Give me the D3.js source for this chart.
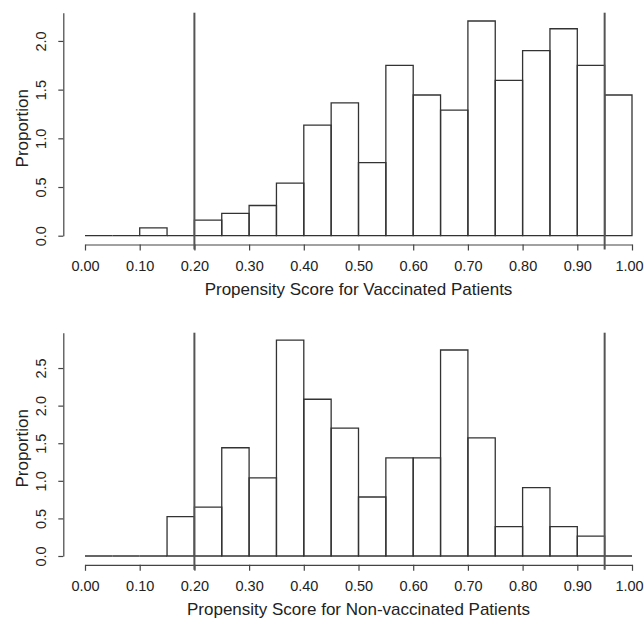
<!DOCTYPE html>
<html>
<head>
<meta charset="utf-8">
<script src="https://cdn.jsdelivr.net/npm/d3@7"></script>
<style>
  body { margin: 0; background: #fff; }
  svg { font-family: "Liberation Sans", Arial, sans-serif; }
</style>
</head>
<body>
<div id="chart"></div>
<script>
// bin starts (width 0.05)
var binStarts = [0.00, 0.05, 0.10, 0.15, 0.20, 0.25, 0.30, 0.35, 0.40, 0.45,
                 0.50, 0.55, 0.60, 0.65, 0.70, 0.75, 0.80, 0.85, 0.90, 0.95];
var binWidth = 0.05;

var vaccinated = [0, 0, 0.08, 0, 0.16, 0.23, 0.31, 0.54, 1.135, 1.365,
                  0.75, 1.75, 1.445, 1.29, 2.205, 1.595, 1.90, 2.125, 1.75, 1.445];
var nonVaccinated = [0, 0, 0, 0.525, 0.65, 1.44, 1.04, 2.87, 2.085, 1.70,
                     0.785, 1.305, 1.305, 2.74, 1.57, 0.39, 0.91, 0.39, 0.265, 0];

var xTicks = [0, 0.1, 0.2, 0.3, 0.4, 0.5, 0.6, 0.7, 0.8, 0.9, 1.0];
var yTicksTop = [0, 0.5, 1.0, 1.5, 2.0];
var yTicksBottom = [0, 0.5, 1.0, 1.5, 2.0, 2.5];
var cutoffs = [0.20, 0.95];

var width = 644, height = 619;

var svg = d3.select("#chart").append("svg")
    .attr("width", width)
    .attr("height", height);

var x = d3.scaleLinear().domain([0, 1]).range([85, 632]);

function panel(values, yTicks, yMax, top, bottom, title) {
  var y = d3.scaleLinear().domain([0, yMax]).range([bottom, top]);
  var g = svg.append("g");

  // bars (paths so empty bins still show the baseline)
  g.selectAll("path.bar")
      .data(values)
      .enter().append("path")
      .attr("class", "bar")
      .attr("d", function(d, i) {
        var x0 = x(binStarts[i]), x1 = x(binStarts[i] + binWidth);
        return "M" + x0 + "," + y(0) + "V" + y(d) + "H" + x1 + "V" + y(0) + "Z";
      })
      .attr("fill", "none")
      .attr("stroke", "#333")
      .attr("stroke-width", 1.3);

  // x axis
  var axisY = y(0) + 8.8;
  var xa = g.append("g")
      .attr("transform", "translate(0," + axisY + ")")
      .call(d3.axisBottom(x).tickValues(xTicks).tickFormat(d3.format(".2f"))
            .tickSize(6).tickSizeOuter(0));
  xa.select(".domain").attr("stroke", "#444").attr("stroke-width", 1.2);
  xa.selectAll(".tick line").attr("stroke", "#444").attr("stroke-width", 1.2);
  xa.selectAll(".tick text")
      .attr("y", 16)
      .attr("font-size", "14.5px")
      .attr("fill", "#222")
      .attr("font-family", "Liberation Sans, Arial, sans-serif");
  // last label would run off the page edge
  xa.selectAll(".tick text").filter(function(d) { return d === 1; })
      .attr("x", -3);

  // y axis
  var ya = g.append("g")
      .attr("transform", "translate(63.3,0)")
      .call(d3.axisLeft(y).tickValues(yTicks).tickFormat(d3.format(".1f"))
            .tickSize(5).tickSizeOuter(0));
  ya.select(".domain").attr("stroke", "#444").attr("stroke-width", 1.2);
  ya.selectAll(".tick line").attr("stroke", "#444").attr("stroke-width", 1.2);
  ya.selectAll(".tick text")
      .attr("x", null).attr("dy", null)
      .attr("transform", "translate(-22,0) rotate(-90)")
      .attr("text-anchor", "middle")
      .attr("dominant-baseline", "central")
      .attr("font-size", "14.5px")
      .attr("fill", "#222")
      .attr("font-family", "Liberation Sans, Arial, sans-serif");

  // cutoff lines
  g.selectAll("line.cut")
      .data(cutoffs)
      .enter().append("line")
      .attr("class", "cut")
      .attr("x1", function(d) { return x(d); })
      .attr("x2", function(d) { return x(d); })
      .attr("y1", top)
      .attr("y2", axisY + 5)
      .attr("stroke", "#555")
      .attr("stroke-width", 2);

  // labels
  g.append("text")
      .attr("x", (x(0) + x(1)) / 2)
      .attr("y", axisY + 50)
      .attr("text-anchor", "middle")
      .attr("font-size", "17px")
      .attr("fill", "#222")
      .text(title);

  g.append("text")
      .attr("transform", "translate(22," + ((top + bottom) / 2 + 4) + ") rotate(-90)")
      .attr("text-anchor", "middle")
      .attr("dominant-baseline", "central")
      .attr("font-size", "17px")
      .attr("fill", "#222")
      .text("Proportion");
}

panel(vaccinated, yTicksTop, 2.29, 12.7, 235.7, "Propensity Score for Vaccinated Patients");
panel(nonVaccinated, yTicksBottom, 2.97, 332.7, 556, "Propensity Score for Non-vaccinated Patients");
</script>
</body>
</html>
